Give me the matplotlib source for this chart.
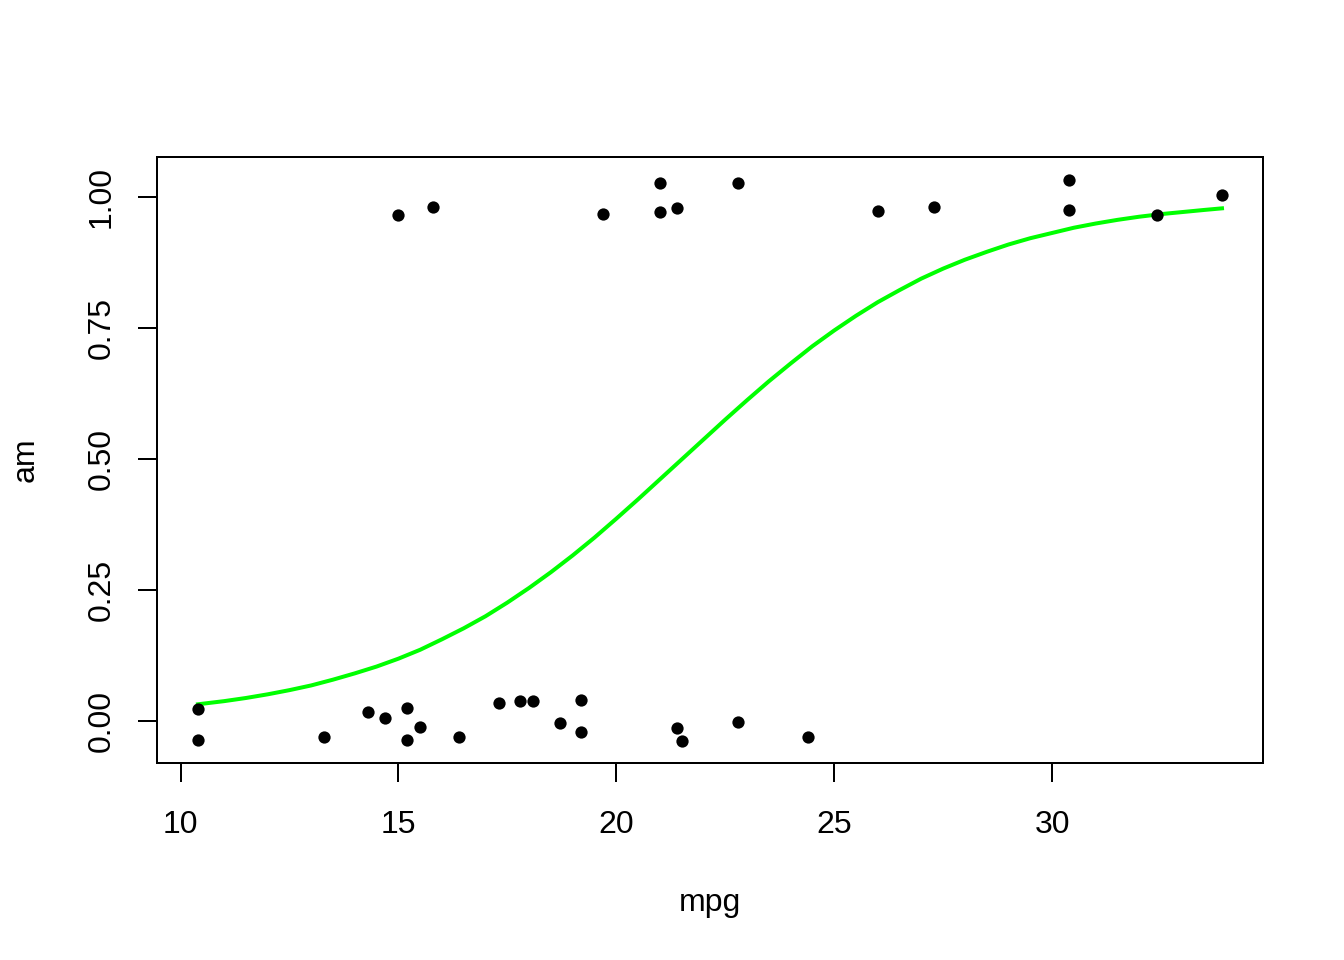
import matplotlib
matplotlib.use('Agg')
import matplotlib.pyplot as plt

plt.rcParams['font.family'] = ['Liberation Sans', 'DejaVu Sans']

# jittered mtcars points (mpg, am)
mpg_manual = [15.0, 15.8, 19.7, 21.0, 21.0, 21.4, 22.8, 26.0, 27.3, 30.4, 30.4, 32.4, 33.9]
am_manual = [0.966, 0.981, 0.968, 1.027, 0.971, 0.979, 1.027, 0.973, 0.981, 1.032, 0.975, 0.966, 1.004]

mpg_auto = [10.4, 10.4, 13.3, 14.3, 14.7, 15.2, 15.2, 15.5, 16.4, 17.3,
            17.8, 18.1, 18.7, 19.2, 19.2, 21.4, 21.5, 22.8, 24.4]
am_auto = [0.023, -0.036, -0.031, 0.017, 0.006, 0.025, -0.036, -0.011, -0.031, 0.034,
           0.038, 0.038, -0.004, 0.040, -0.021, -0.013, -0.038, -0.002, -0.031]

# fitted probability curve
curve_x = [10.4, 11, 11.5, 12, 12.5, 13, 13.5, 14, 14.5, 15, 15.5, 16, 16.5,
           17, 17.5, 18, 18.5, 19, 19.5, 20, 20.5, 21, 21.5, 22, 22.5,
           23, 23.5, 24, 24.5, 25, 25.5, 26, 26.5, 27, 27.5, 28, 28.5,
           29, 29.5, 30, 30.5, 31, 31.5, 32, 32.5, 33, 33.5, 33.9]
curve_y = [0.032, 0.038, 0.044, 0.051, 0.059, 0.068, 0.079, 0.091, 0.104, 0.119,
           0.136, 0.156, 0.177, 0.200, 0.226, 0.254, 0.284, 0.316, 0.350, 0.386,
           0.423, 0.461, 0.499, 0.537, 0.575, 0.612, 0.648, 0.682, 0.715, 0.745,
           0.773, 0.799, 0.822, 0.844, 0.863, 0.880, 0.895, 0.909, 0.921, 0.931,
           0.941, 0.949, 0.956, 0.962, 0.967, 0.971, 0.975, 0.978]

x_ticks = [10, 15, 20, 25, 30]
y_ticks = [0.00, 0.25, 0.50, 0.75, 1.00]
y_tick_labels = ['0.00', '0.25', '0.50', '0.75', '1.00']

fig = plt.figure(figsize=(7, 5), dpi=192)
ax = fig.add_axes([0.1168, 0.2052, 0.8229, 0.6313])

ax.scatter(mpg_manual + mpg_auto, am_manual + am_auto, s=4.6 ** 2,
           color='black', linewidths=0, zorder=3)
ax.plot(curve_x, curve_y, color='#00ff00', lw=1.5, zorder=2)

ax.set_xlim(9.46, 34.84)
ax.set_ylim(-0.080, 1.076)

ax.set_xticks(x_ticks)
ax.set_xticklabels([str(t) for t in x_ticks])
ax.set_yticks(y_ticks)
ax.set_yticklabels(y_tick_labels, rotation=90, va='center')

ax.tick_params(direction='out', length=7.2, width=0.75, labelsize=12)
ax.tick_params(axis='x', pad=10.5)
ax.tick_params(axis='y', pad=8)
for s in ax.spines.values():
    s.set_linewidth(0.75)

ax.set_xlabel('mpg', fontsize=12, labelpad=18)
ax.set_ylabel('am', fontsize=12, labelpad=17)

fig.savefig('out.png', dpi=192)
